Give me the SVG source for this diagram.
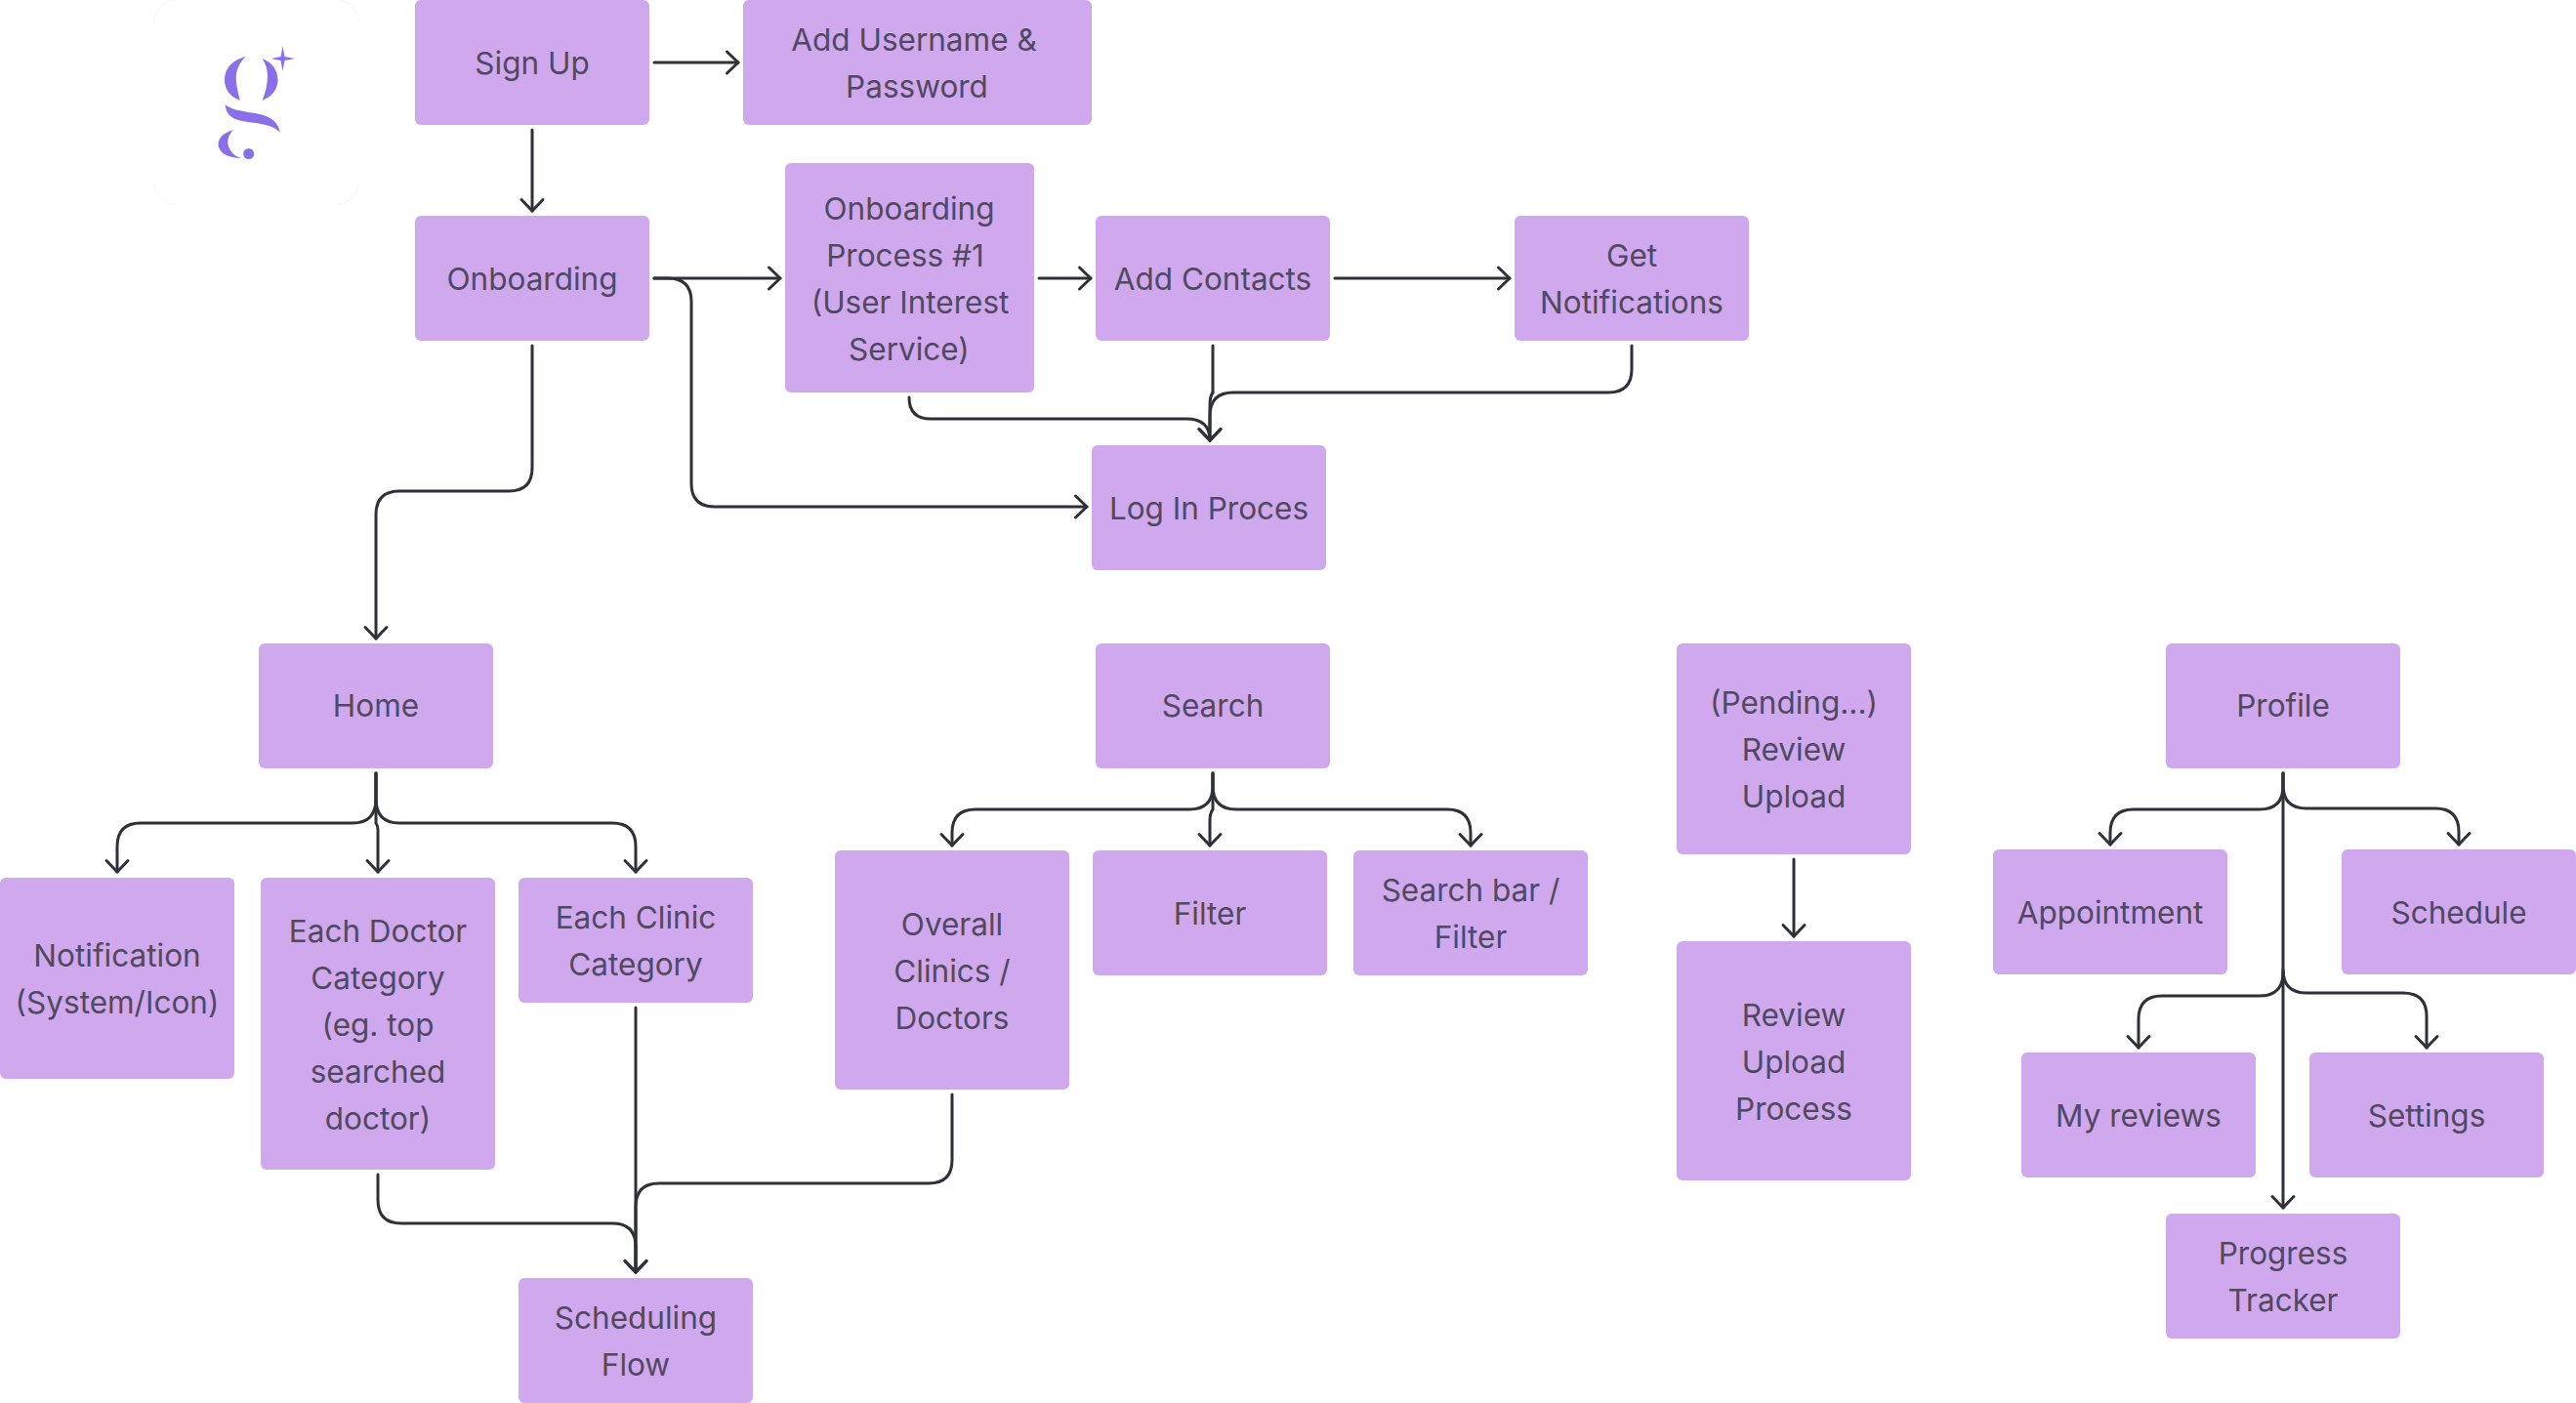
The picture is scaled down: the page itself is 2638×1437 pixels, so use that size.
<svg xmlns="http://www.w3.org/2000/svg" width="2638" height="1437" viewBox="0 0 2638 1437">
<style>
.n rect{fill:#CFA8EE;}
.n text{font-family:Inter,"Liberation Sans",sans-serif;font-size:31.5px;fill:#50495F;text-anchor:middle;}
#connectors path{fill:none;stroke:#2F3038;stroke-width:3;stroke-linecap:round;marker-end:url(#a);}
#connectors path.m{marker-end:none;}
</style>
<defs>
<marker id="a" markerUnits="userSpaceOnUse" viewBox="-15 -13 17 26" markerWidth="17" markerHeight="26" refX="0" refY="0" orient="auto" overflow="visible"><path d="M-11.5,-11 L0,0 L-11.5,11" fill="none" stroke="#2F3038" stroke-width="3" stroke-linecap="round" stroke-linejoin="round"/></marker>
</defs>
<rect width="2638" height="1437" fill="#fff"/>
<g id="logo">
<path d="M158,22 A22,22 0 0 1 180,0 M345,0 A22,22 0 0 1 367,22 M367,187 A22,22 0 0 1 345,209 M180,209 A22,22 0 0 1 158,187" fill="none" stroke="#F5F4FC" stroke-width="1"/>
<g fill="#8A6FE8">
<path d="M289.5,47 L291.5,58 L302,60 L291.5,62 L289.5,73 L287.5,62 L277.5,60 L287.5,58 Z"/>
<path d="M251.6,58 C236,62 230,72 230,82 C230,92 236,99 245.8,103 C243,92 241.5,84 241.8,78 C242.5,70 246,63 251.6,58 Z"/>
<path d="M268.6,60 C279,64 284.5,72 284.5,82 C284.5,92 278,99 268.6,103 C272,94 274,86 274,78 C274,71 272,65 268.6,60 Z"/>
<path d="M230.6,107 C236,112 245,113 254,115 C270,117 284,120 287,136 C282,130 274,128 262,126 C248,124 232,124 230.6,107 Z"/>
<path d="M239,133 C229,136 223.5,141 223.5,148 C224,157 235,162 247,162 C240,160 235,155 233.5,148 C232.5,142 235,137 239,133 Z"/>
<circle cx="254.7" cy="157.5" r="5.5"/>
</g>
</g>
<g id="connectors">
<path d="M670,64 H756"/>
<path d="M545,133 V216"/>
<path d="M670,285 H799"/>
<path d="M670,285 H684 Q708,285 708,309 V495 Q708,519 732,519 H1113"/>
<path d="M545,354 V479 Q545,503 521,503 H409 Q385,503 385,527 V654"/>
<path d="M1064,285 H1117"/>
<path d="M1367,285 H1546"/>
<path class="m" d="M1242,354 V402"/>
<path d="M1242,402 Q1239,406 1239,415 V451"/>
<path d="M1671,354 V378 Q1671,402 1647,402 H1263 Q1239,402 1239,426 V451"/>
<path d="M931,407 Q931,429 953,429 H1215 Q1239,429 1239,451"/>
<path d="M385,792 V818 Q385,843 361,843 H144 Q120,843 120,867 V893"/>
<path d="M385,792 V818 Q385,843 409,843 H627 Q651,843 651,867 V893"/>
<path d="M385,792 V843 Q387,846 387,850 V893"/>
<path d="M651,1032 V1303"/>
<path d="M387,1203 V1229 Q387,1253 411,1253 H627 Q651,1253 651,1277 V1303"/>
<path d="M975,1121 V1188 Q975,1212 951,1212 H675 Q651,1212 651,1236 V1303"/>
<path d="M1242,792 V805 Q1242,829 1218,829 H999 Q975,829 975,853 V866"/>
<path d="M1242,792 V805 Q1242,829 1266,829 H1482 Q1506,829 1506,853 V866"/>
<path d="M1242,792 V829 Q1239,833 1239,840 V866"/>
<path d="M1837,880 V959"/>
<path d="M2338,792 V1237"/>
<path d="M2338,792 V805 Q2338,829 2314,829 H2185 Q2161,829 2161,853 V865"/>
<path d="M2338,792 V804 Q2338,828 2362,828 H2494 Q2518,828 2518,852 V865"/>
<path d="M2338,996 Q2338,1020 2314,1020 H2214 Q2190,1020 2190,1044 V1073"/>
<path d="M2338,993 Q2338,1017 2362,1017 H2461 Q2485,1017 2485,1041 V1073"/>
</g>
<g id="signup" class="n"><rect x="425" y="0" width="240" height="128" rx="6"/><text x="545" y="76">Sign Up</text></g>
<g id="add-username" class="n"><rect x="761" y="0" width="357" height="128" rx="6"/><text x="936" y="52">Add Username &amp;</text><text x="939" y="100">Password</text></g>
<g id="onboarding" class="n"><rect x="425" y="221" width="240" height="128" rx="6"/><text x="545" y="297">Onboarding</text></g>
<g id="onboarding-process" class="n"><rect x="804" y="167" width="255" height="235" rx="6"/><text x="931" y="225">Onboarding</text><text x="927" y="273">Process #1</text><text x="932" y="321">(User Interest</text><text x="931" y="369">Service)</text></g>
<g id="add-contacts" class="n"><rect x="1122" y="221" width="240" height="128" rx="6"/><text x="1242" y="297">Add Contacts</text></g>
<g id="get-notifications" class="n"><rect x="1551" y="221" width="240" height="128" rx="6"/><text x="1671" y="273">Get</text><text x="1671" y="321">Notifications</text></g>
<g id="login" class="n"><rect x="1118" y="456" width="240" height="128" rx="6"/><text x="1238" y="532">Log In Proces</text></g>
<g id="home" class="n"><rect x="265" y="659" width="240" height="128" rx="6"/><text x="385" y="734">Home</text></g>
<g id="notification" class="n"><rect x="0" y="899" width="240" height="206" rx="6"/><text x="120" y="990">Notification</text><text x="120" y="1038">(System/Icon)</text></g>
<g id="each-doctor" class="n"><rect x="267" y="899" width="240" height="299" rx="6"/><text x="387" y="965">Each Doctor</text><text x="387" y="1013">Category</text><text x="387" y="1061">(eg. top</text><text x="387" y="1109">searched</text><text x="387" y="1157">doctor)</text></g>
<g id="each-clinic" class="n"><rect x="531" y="899" width="240" height="128" rx="6"/><text x="651" y="951">Each Clinic</text><text x="651" y="999">Category</text></g>
<g id="overall" class="n"><rect x="855" y="871" width="240" height="245" rx="6"/><text x="975" y="958">Overall</text><text x="975" y="1006">Clinics /</text><text x="975" y="1054">Doctors</text></g>
<g id="scheduling" class="n"><rect x="531" y="1309" width="240" height="128" rx="6"/><text x="651" y="1361">Scheduling</text><text x="651" y="1409">Flow</text></g>
<g id="search" class="n"><rect x="1122" y="659" width="240" height="128" rx="6"/><text x="1242" y="734">Search</text></g>
<g id="filter" class="n"><rect x="1119" y="871" width="240" height="128" rx="6"/><text x="1239" y="947">Filter</text></g>
<g id="search-bar" class="n"><rect x="1386" y="871" width="240" height="128" rx="6"/><text x="1506" y="923">Search bar /</text><text x="1506" y="971">Filter</text></g>
<g id="pending" class="n"><rect x="1717" y="659" width="240" height="216" rx="6"/><text x="1837" y="731">(Pending...)</text><text x="1837" y="779">Review</text><text x="1837" y="827">Upload</text></g>
<g id="review-process" class="n"><rect x="1717" y="964" width="240" height="245" rx="6"/><text x="1837" y="1051">Review</text><text x="1837" y="1099">Upload</text><text x="1837" y="1147">Process</text></g>
<g id="profile" class="n"><rect x="2218" y="659" width="240" height="128" rx="6"/><text x="2338" y="734">Profile</text></g>
<g id="appointment" class="n"><rect x="2041" y="870" width="240" height="128" rx="6"/><text x="2161" y="946">Appointment</text></g>
<g id="schedule" class="n"><rect x="2398" y="870" width="240" height="128" rx="6"/><text x="2518" y="946">Schedule</text></g>
<g id="my-reviews" class="n"><rect x="2070" y="1078" width="240" height="128" rx="6"/><text x="2190" y="1154">My reviews</text></g>
<g id="settings" class="n"><rect x="2365" y="1078" width="240" height="128" rx="6"/><text x="2485" y="1154">Settings</text></g>
<g id="progress" class="n"><rect x="2218" y="1243" width="240" height="128" rx="6"/><text x="2338" y="1295">Progress</text><text x="2338" y="1343">Tracker</text></g>
</svg>
